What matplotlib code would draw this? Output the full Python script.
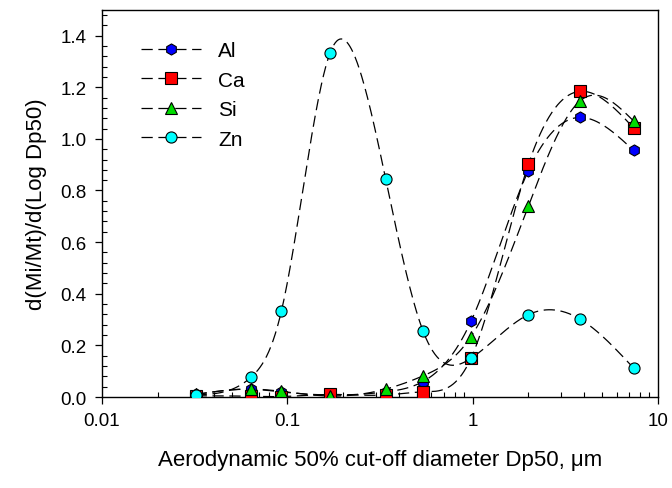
import numpy as np
import matplotlib
matplotlib.use("Agg")
import matplotlib.pyplot as plt
from matplotlib.ticker import FixedLocator, NullFormatter, MultipleLocator

plt.rcParams['font.family'] = ['Liberation Sans', 'DejaVu Sans']

# Data
dp50 = [0.032, 0.064, 0.093, 0.17, 0.34, 0.54, 0.98, 2.0, 3.8, 7.4]
al = [0.010, 0.030, 0.020, 0.008, 0.020, 0.060, 0.293, 0.877, 1.083, 0.955]
ca = [0.005, 0.003, 0.002, 0.010, 0.008, 0.020, 0.150, 0.901, 1.184, 1.042]
si = [0.010, 0.031, 0.022, 0.004, 0.031, 0.082, 0.234, 0.740, 1.147, 1.069]
zn = [0.009, 0.078, 0.334, 1.332, 0.843, 0.256, 0.150, 0.319, 0.302, 0.112]

series = [
    ("Al", al, 'h', '#0000ff'),
    ("Ca", ca, 's', '#ff0000'),
    ("Si", si, '^', '#00dd00'),
    ("Zn", zn, 'o', '#00ffff'),
]


def natural_spline(x, y, xn):
    x = np.asarray(x, float)
    y = np.asarray(y, float)
    n = len(x)
    h = np.diff(x)
    A = np.zeros((n, n))
    b = np.zeros(n)
    A[0, 0] = 1
    A[-1, -1] = 1
    for i in range(1, n - 1):
        A[i, i - 1] = h[i - 1]
        A[i, i] = 2 * (h[i - 1] + h[i])
        A[i, i + 1] = h[i]
        b[i] = 3 * ((y[i + 1] - y[i]) / h[i] - (y[i] - y[i - 1]) / h[i - 1])
    c = np.linalg.solve(A, b)
    out = np.empty_like(xn)
    for k, xv in enumerate(xn):
        i = min(max(np.searchsorted(x, xv) - 1, 0), n - 2)
        dx = xv - x[i]
        bi = (y[i + 1] - y[i]) / h[i] - h[i] * (2 * c[i] + c[i + 1]) / 3
        di = (c[i + 1] - c[i]) / (3 * h[i])
        out[k] = y[i] + bi * dx + c[i] * dx ** 2 + di * dx ** 3
    return out


fig = plt.figure(figsize=(6.72, 4.89), dpi=100)
ax = fig.add_axes([0.1518, 0.186, 0.8272, 0.792])

lx = np.log10(dp50)
xn = np.linspace(lx[0], lx[-1], 600)
for name, vals, mk, col in series:
    yn = natural_spline(lx, vals, xn)
    ax.plot(10 ** xn, yn, color='black', lw=0.9, dashes=(9, 4.5), zorder=2)
    ax.plot(dp50, vals, linestyle='none', marker=mk, markersize=8,
            markerfacecolor=col, markeredgecolor='black', markeredgewidth=0.8, zorder=3)
    ax.plot([], [], color='black', lw=0.9, dashes=(9, 4.5), marker=mk, markersize=8,
            markerfacecolor=col, markeredgecolor='black', markeredgewidth=0.8, label=name)

ax.set_xscale('log')
ax.set_xlim(0.01, 10)
ax.set_ylim(0, 1.5)
ax.set_xticks([0.01, 0.1, 1, 10])
ax.set_xticklabels(['0.01', '0.1', '1', '10'])
ax.set_yticks([0.0, 0.2, 0.4, 0.6, 0.8, 1.0, 1.2, 1.4])
ax.set_yticklabels(['0.0', '0.2', '0.4', '0.6', '0.8', '1.0', '1.2', '1.4'])
ax.yaxis.set_minor_locator(MultipleLocator(0.04))
ax.xaxis.set_minor_locator(FixedLocator([m * 10.0 ** e for e in (-2, -1, 0) for m in range(2, 10)]))
ax.xaxis.set_minor_formatter(NullFormatter())
ax.tick_params(which='major', direction='out', length=5, width=0.9, labelsize=13.5,
               top=False, right=False, pad=6)
ax.tick_params(which='minor', direction='in', length=3.5, width=0.8, top=False, right=False)
for s in ax.spines.values():
    s.set_linewidth(1.0)

ax.set_xlabel('Aerodynamic 50% cut-off diameter Dp50, \u03bcm', fontsize=16, labelpad=14)
ax.set_ylabel('d(Mi/Mt)/d(Log Dp50)', fontsize=16, labelpad=10)

leg = ax.legend(loc='upper left', bbox_to_anchor=(0.055, 0.94), frameon=False,
                fontsize=15, handlelength=2.9, numpoints=1, labelspacing=0.5,
                handletextpad=0.8, borderaxespad=0)

fig.savefig('out.png', dpi=100)
